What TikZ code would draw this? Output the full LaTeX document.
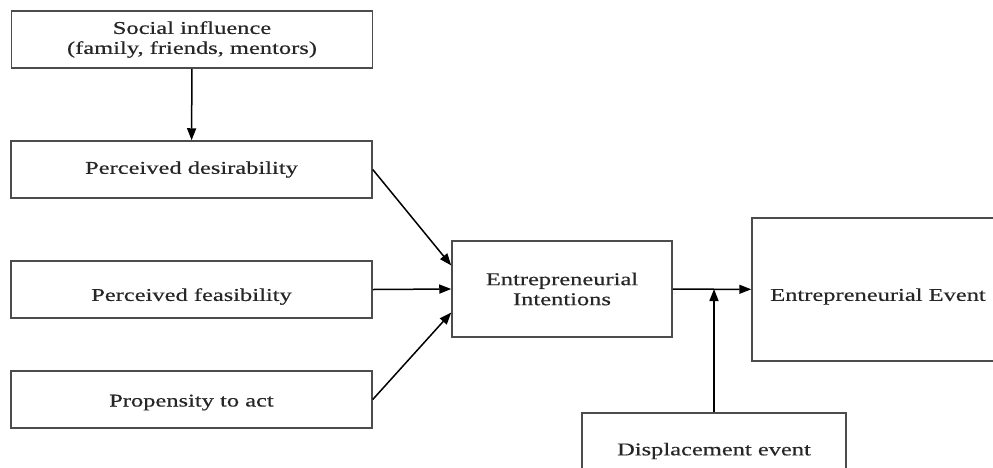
\documentclass[tikz,border=0pt]{standalone}
\usepackage{fontspec}
\setmainfont{Liberation Serif}[FakeStretch=1.36,FakeBold=0.4]
\usetikzlibrary{arrows.meta}

\begin{document}
\begin{tikzpicture}[
  x=1pt,y=-1pt,
  >=Triangle,
  arrow/.style={draw=black,line width=1.5pt,-{Triangle[length=12pt,width=9pt]}},
  factor/.style={draw=black!70,fill=white,line width=1.5pt,align=center,
    font=\fontsize{18}{20}\selectfont,minimum width=361pt,minimum height=57pt,
    inner sep=0pt,text=black!85},
  stage/.style={draw=black!70,fill=white,line width=1.5pt,align=center,
    font=\fontsize{18}{20}\selectfont,inner sep=0pt,text=black!85}]

\useasboundingbox (0,0) rectangle (993,467);
\clip (0,0) rectangle (993,467);

\node[factor] (social) at (192,39.5)
  {Social influence\\(family, friends, mentors)};
\node[factor] (desir) at (191.5,169.5) {Perceived desirability};
\node[factor] (feas) at (191.5,289.5)
  {\raisebox{-7pt}[\height][\depth]{Perceived feasibility}};
\node[factor] (prop) at (191.5,399.5)
  {\raisebox{-3pt}[\height][\depth]{Propensity to act}};

\node[stage,minimum width=220pt,minimum height=96pt] (intent) at (562,289)
  {Entrepreneurial\\Intentions};
\node[stage,minimum width=252pt,minimum height=143pt] (event) at (878,289.5)
  {\raisebox{-7pt}[\height][\depth]{Entrepreneurial Event}};
\node[stage,minimum width=264pt,minimum height=76pt] (displ) at (714,451)
  {Displacement event};

\draw[arrow] (social) -- (desir);
\draw[arrow] (desir.east) -- (intent.168);
\draw[arrow] (feas.east) -- (intent.west);
\draw[arrow] (prop.east) -- (intent.192);
\draw[arrow] (intent) -- (event);
\draw[arrow] (displ.north) -- (displ.north |- intent.east);
\end{tikzpicture}
\end{document}
